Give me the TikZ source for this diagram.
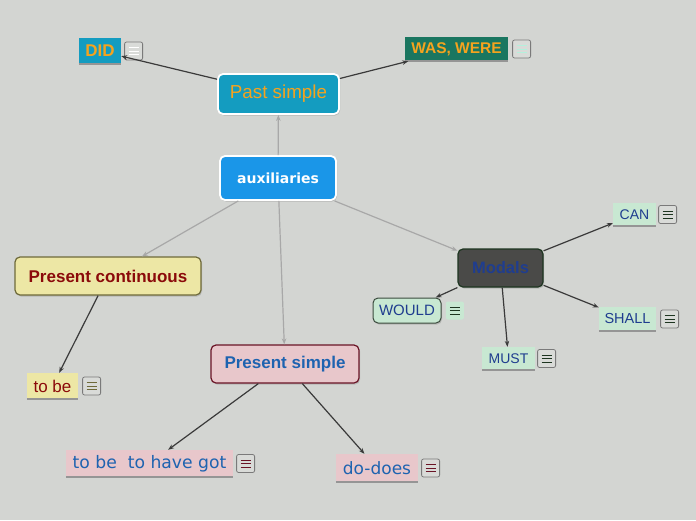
\documentclass[tikz,border=0pt]{standalone}
\usepackage{fontspec}
\setmainfont{Liberation Sans}
\newfontfamily\dejavu{DejaVu Sans}
\usetikzlibrary{arrows.meta,positioning,shadows}
\definecolor{bggray}{HTML}{D3D5D2}
\definecolor{pastblue}{HTML}{149CC0}
\definecolor{labelorange}{HTML}{F5A31E}
\definecolor{wasgreen}{HTML}{1A7660}
\definecolor{wasicon}{HTML}{B4F0DC}
\definecolor{auxblue}{HTML}{1A96E8}
\definecolor{contyellow}{HTML}{EDE7A5}
\definecolor{contborder}{HTML}{6E6A3A}
\definecolor{contred}{HTML}{8B0A0A}
\definecolor{simplepink}{HTML}{E8C7CB}
\definecolor{simpleborder}{HTML}{6A1426}
\definecolor{simpleblue}{HTML}{1E63B0}
\definecolor{modalgray}{HTML}{4A4A48}
\definecolor{modalborder}{HTML}{1D3520}
\definecolor{modalblue}{HTML}{1F3D8F}
\definecolor{leafgreen}{HTML}{C8E8D2}
\definecolor{iconfill}{HTML}{D9DBD8}
\definecolor{iconborder}{HTML}{7A7A7A}
\definecolor{edgelight}{HTML}{A8A8A8}
\definecolor{edgedark}{HTML}{3A3A3A}
\newcommand{\fsz}[1]{\fontsize{#1}{#1}\selectfont}

\tikzset{
  topic/.style={rectangle, rounded corners=5pt, inner sep=0pt, align=center,
    drop shadow={shadow xshift=1pt, shadow yshift=-1.5pt, opacity=0.35}},
  leaf/.style={rectangle, inner sep=0pt, align=center},
  underline/.style={draw=iconborder!80, line width=1.5pt},
  noteicon/.style={rectangle, rounded corners=2pt, draw=iconborder, fill=iconfill,
    line width=0.8pt, minimum width=18pt, minimum height=18pt, inner sep=0pt,
    path picture={\foreach \yy in {-3.5,0,3.5}
      \draw[#1, line width=1pt] ([xshift=-5pt,yshift=\yy pt]path picture bounding box.center) -- ++(10pt,0);}},
  linklight/.style={draw=edgelight, line width=1.2pt, -{Stealth[length=6pt,width=4.5pt]}},
  linkdark/.style={draw=edgedark, line width=1.2pt, -{Stealth[length=6pt,width=4.5pt]}},
}

\begin{document}
\begin{tikzpicture}[x=1pt, y=-1pt]
  \fill[bggray] (0,0) rectangle (696,520);
  \useasboundingbox (0,0) rectangle (696,520);

  % central topic
  \node[topic, draw=white, line width=1.8pt, fill=auxblue, minimum width=116pt, minimum height=44pt,
    text=white, font=\dejavu\bfseries\fsz{14}] (aux) at (278,178) {auxiliaries};

  % past simple branch
  \node[topic, draw=white, line width=1.8pt, fill=pastblue, minimum width=121pt, minimum height=40pt,
    text=labelorange, font=\fsz{18.8}] (past) at (278.5,94) {Past simple};
  \node[leaf, fill=pastblue, minimum width=42pt, minimum height=26pt,
    text=labelorange, font=\bfseries\fsz{17}] (did) at (100,51) {DID};
  \node[noteicon=white, right=3pt of did] (didnote) {};
  \node[leaf, fill=wasgreen, minimum width=103pt, minimum height=24pt,
    text=labelorange, font=\bfseries\fsz{15.5}] (was) at (456.5,49) {WAS, WERE};
  \node[noteicon=wasicon, right=4pt of was] (wasnote) {};

  % present continuous branch
  \node[topic, draw=contborder, line width=1.2pt, fill=contyellow, minimum width=186pt, minimum height=38pt,
    text=contred, font=\bfseries\fsz{17}] (cont) at (108,276) {Present continuous};
  \node[leaf, fill=contyellow, minimum width=51pt, minimum height=26pt,
    text=contred, font=\fsz{17}] (tobe) at (52.5,386) {to be};
  \node[noteicon=contborder, right=4pt of tobe] (tobenote) {};

  % present simple branch
  \node[topic, draw=simpleborder, line width=1.2pt, fill=simplepink, minimum width=148pt, minimum height=38pt,
    text=simpleblue, font=\bfseries\fsz{17}] (simple) at (285,364) {Present simple};
  \node[leaf, fill=simplepink, minimum width=167pt, minimum height=27pt,
    text=simpleblue, font=\dejavu\fsz{17.2}] (havegot) at (149.5,463.5) {to be\ \ to have got};
  \node[noteicon=simpleborder, right=3pt of havegot] (havegotnote) {};
  \node[leaf, fill=simplepink, minimum width=82pt, minimum height=28pt,
    text=simpleblue, font=\dejavu\fsz{17}] (dodoes) at (377,468) {do-does};
  \node[noteicon=simpleborder, right=3pt of dodoes] (dodoesnote) {};

  % modals branch
  \node[topic, draw=modalborder, line width=1.2pt, fill=modalgray, minimum width=85pt, minimum height=38pt,
    text=modalblue, font=\bfseries\fsz{16.5}] (modals) at (500.5,268) {Modals};
  \node[leaf, fill=leafgreen, minimum width=43pt, minimum height=23pt,
    text=modalblue, font=\fsz{14}] (can) at (634.5,214.5) {CAN};
  \node[noteicon=modalborder, right=2pt of can] (cannote) {};
  \node[topic, draw=modalborder!70!gray, line width=1pt, fill=leafgreen, minimum width=68pt, minimum height=25pt,
    text=modalblue, font=\fsz{15}] (would) at (407,310.5) {WOULD};
  \node[noteicon=modalborder, draw=none, fill=leafgreen, right=4pt of would] (wouldnote) {};
  \node[leaf, fill=leafgreen, minimum width=53pt, minimum height=23pt,
    text=modalblue, font=\fsz{14}] (must) at (508.5,358.5) {MUST};
  \node[noteicon=modalborder, right=2pt of must] (mustnote) {};
  \node[leaf, fill=leafgreen, minimum width=57pt, minimum height=24pt,
    text=modalblue, font=\fsz{14.5}] (shall) at (627.5,319) {SHALL};
  \node[noteicon=modalborder, right=4pt of shall] (shallnote) {};

  % leaf underlines
  \foreach \n in {did,was,tobe,havegot,dodoes,can,must,shall}
    \draw[underline] (\n.south west) -- (\n.south east);

  % connectors
  \draw[linklight] (aux) -- (past);
  \draw[linklight] (aux) -- (cont);
  \draw[linklight] (aux) -- (simple);
  \draw[linklight] (aux) -- (modals);
  \draw[linkdark] (past) -- (did);
  \draw[linkdark] (past) -- (was);
  \draw[linkdark] (cont) -- (tobe);
  \draw[linkdark] (simple) -- (havegot);
  \draw[linkdark] (simple) -- (dodoes);
  \draw[linkdark] (modals) -- (can);
  \draw[linkdark] (modals) -- (shall);
  \draw[linkdark] (modals) -- (must);
  \draw[linkdark] (modals) -- (would);
\end{tikzpicture}
\end{document}
